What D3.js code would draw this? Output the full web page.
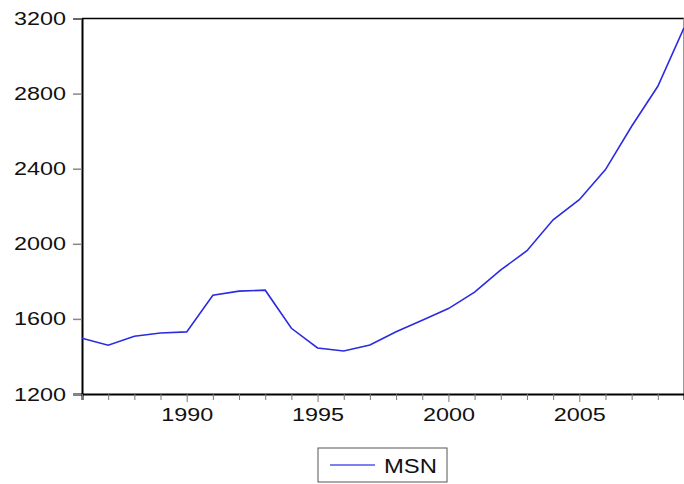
<!DOCTYPE html>
<html>
<head>
<meta charset="utf-8">
<script src="https://cdn.jsdelivr.net/npm/d3@7"></script>
<style>
  body { margin: 0; background: #fff; }
  svg { display: block; font-family: "Liberation Sans", Arial, sans-serif; }
</style>
</head>
<body>
<svg width="684" height="484"></svg>
<script>
var years = d3.range(1986, 2010);
var msn = [1497, 1460, 1508, 1525, 1531, 1726, 1748, 1753, 1550, 1445,
           1429, 1461, 1532, 1593, 1655, 1743, 1861, 1963, 2128, 2235,
           2395, 2626, 2839, 3150];
var yTicks = [1200, 1600, 2000, 2400, 2800, 3200];
var xLabels = [1990, 1995, 2000, 2005];

var svg = d3.select("svg");
var mLeft = 82, mRight = 684, mTop = 18.5, mBottom = 394;

var x = d3.scaleLinear().domain([1986, 2009]).range([mLeft, mRight]);
var y = d3.scaleLinear().domain([1200, 3200]).range([mBottom, mTop]);

// frame
svg.append("line").attr("x1", mLeft).attr("x2", mRight).attr("y1", mTop).attr("y2", mTop)
  .attr("stroke", "#000").attr("stroke-width", 1.5);
svg.append("line").attr("x1", mRight - 0.5).attr("x2", mRight - 0.5).attr("y1", mTop).attr("y2", mBottom)
  .attr("stroke", "#999").attr("stroke-width", 1);

// y axis
var yAxis = svg.append("g").attr("transform", "translate(" + mLeft + ",0)")
  .call(d3.axisLeft(y).tickValues(yTicks).tickSize(9).tickPadding(7).tickFormat(d3.format("d")));
yAxis.select(".domain").attr("stroke", "#000").attr("stroke-width", 2);
yAxis.selectAll(".tick line").attr("stroke", "#888").attr("stroke-width", 1.5);
yAxis.selectAll(".tick text").attr("font-size", 19).attr("fill", "#111")
  .attr("font-family", "Liberation Sans, Arial, sans-serif")
  .attr("textLength", 52).attr("lengthAdjust", "spacingAndGlyphs");

// x axis: minor ticks every year, labels every 5
var xAxis = svg.append("g").attr("transform", "translate(0," + mBottom + ")")
  .call(d3.axisBottom(x).tickValues(years).tickSize(6).tickPadding(8)
    .tickFormat(function(d) { return xLabels.indexOf(d) >= 0 ? d : ""; }));
xAxis.select(".domain").attr("stroke", "#000").attr("stroke-width", 2);
xAxis.selectAll(".tick line").attr("stroke", "#777").attr("stroke-width", 1)
  .attr("y2", function(d) { return xLabels.indexOf(d) >= 0 ? 8 : 6; });
xAxis.selectAll(".tick text").attr("font-size", 19).attr("fill", "#111")
  .attr("font-family", "Liberation Sans, Arial, sans-serif")
  .attr("textLength", function(d) { return xLabels.indexOf(d) >= 0 ? 52 : null; })
  .attr("lengthAdjust", "spacingAndGlyphs");

// series
var line = d3.line()
  .x(function(d, i) { return x(years[i]); })
  .y(function(d) { return y(d); });
svg.append("path").datum(msn)
  .attr("fill", "none").attr("stroke", "#2b2be0").attr("stroke-width", 1.6)
  .attr("d", line);

// legend
var lg = svg.append("g").attr("transform", "translate(318,448)");
lg.append("rect").attr("width", 129).attr("height", 34)
  .attr("fill", "#fff").attr("stroke", "#555").attr("stroke-width", 1);
lg.append("line").attr("x1", 12).attr("x2", 57).attr("y1", 17).attr("y2", 17)
  .attr("stroke", "#5555ee").attr("stroke-width", 1.5);
lg.append("text").attr("x", 66).attr("y", 24.5).attr("font-size", 21).attr("fill", "#111")
  .attr("textLength", 53).attr("lengthAdjust", "spacingAndGlyphs")
  .text("MSN");
</script>
</body>
</html>
